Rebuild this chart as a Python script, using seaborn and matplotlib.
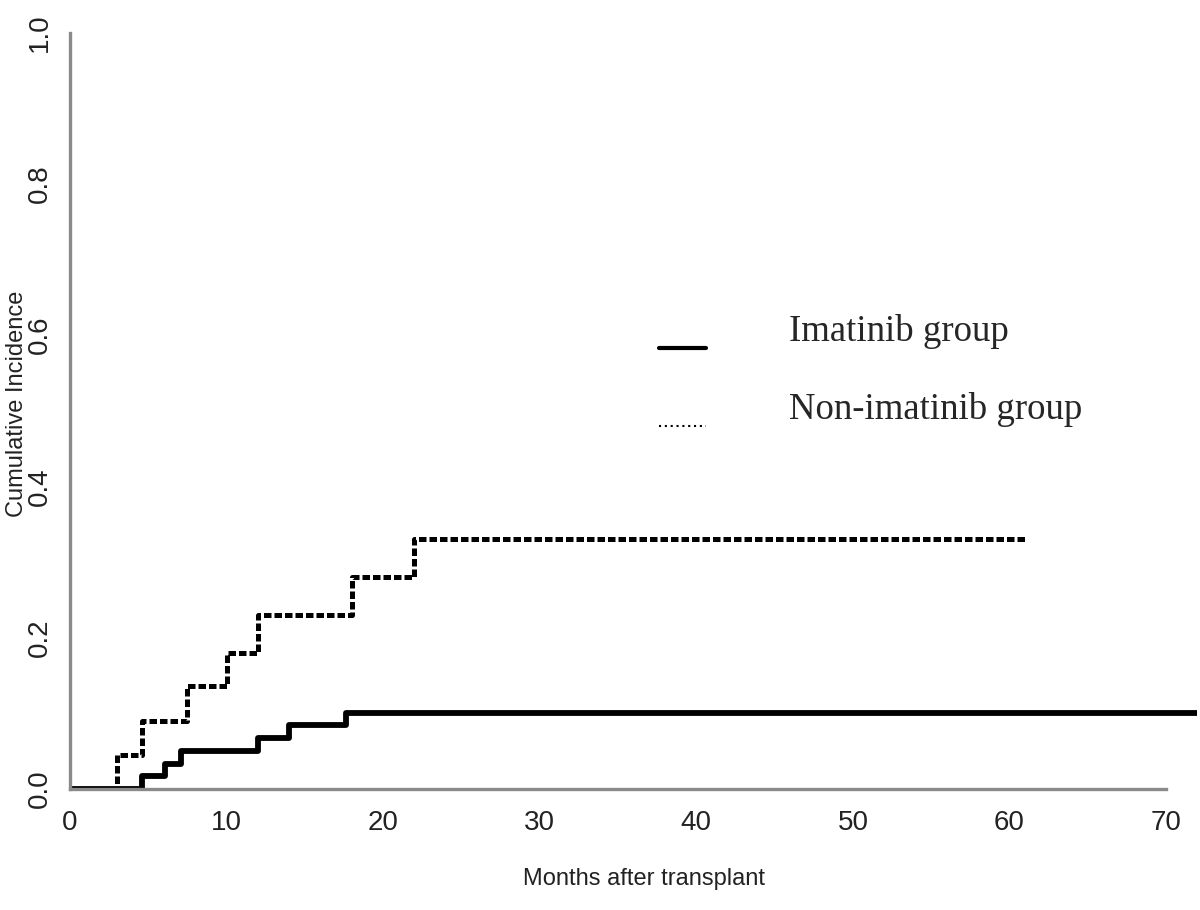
import pandas as pd
import numpy as np
import matplotlib
matplotlib.use("Agg")
import matplotlib.pyplot as plt
import seaborn as sns
from matplotlib.lines import Line2D
from matplotlib.legend_handler import HandlerLine2D

# cumulative incidence step curves
imat_months = [0, 4.6, 6.1, 7.1, 12.0, 14.0, 17.6, 72.0]
imat_ci = [0, 0.017, 0.033, 0.05, 0.067, 0.084, 0.1, 0.1]

non_months = [0, 3.0, 4.6, 7.5, 10.0, 12.0, 18.0, 22.0, 61.0]
non_ci = [0, 0.045, 0.09, 0.136, 0.18, 0.23, 0.28, 0.33, 0.33]

x_ticks = [0, 10, 20, 30, 40, 50, 60, 70]
y_ticks = [0.0, 0.2, 0.4, 0.6, 0.8, 1.0]
labels = ["Imatinib group", "Non-imatinib group"]

df_imat = pd.DataFrame({"month": imat_months, "ci": imat_ci})
df_non = pd.DataFrame({"month": non_months, "ci": non_ci})


class LowHandler(HandlerLine2D):
    # legend samples sit a little below the label text in the original
    def create_artists(self, legend, orig_handle, xdescent, ydescent, width, height, fontsize, trans):
        arts = super().create_artists(legend, orig_handle, xdescent, ydescent,
                                      width, height, fontsize, trans)
        for a in arts:
            a.set_ydata(np.asarray(a.get_ydata()) - 0.55 * fontsize)
        return arts


sns.set_style("white")
plt.rcParams["font.family"] = ["Liberation Sans", "DejaVu Sans"]

fig = plt.figure(figsize=(12, 9.1), dpi=100)
ax = fig.add_axes([0.0583, 0.133, 0.9396, 0.831])

sns.lineplot(data=df_non, x="month", y="ci", ax=ax, color="black", estimator=None,
             drawstyle="steps-post", linewidth=3.6, linestyle=(0, (1.5, 0.6)),
             dash_capstyle="butt")
sns.lineplot(data=df_imat, x="month", y="ci", ax=ax, color="black", estimator=None,
             drawstyle="steps-post", linewidth=4.2, solid_capstyle="butt")

ax.set_xlim(0, 72)
ax.set_ylim(0, 1.0)
ax.set_xticks(x_ticks)
ax.set_yticks(y_ticks)
ax.set_yticklabels([f"{v:.1f}" for v in y_ticks])

for s in ["top", "right"]:
    ax.spines[s].set_visible(False)
for s in ["left", "bottom"]:
    ax.spines[s].set_color("#8a8a8a")
    ax.spines[s].set_linewidth(2.4)
ax.spines["bottom"].set_bounds(0, 70)

ax.tick_params(axis="both", direction="out", length=8, width=2, color="#8a8a8a",
               labelcolor="#222222")
ax.tick_params(axis="x", labelsize=20, pad=7)
ax.tick_params(axis="y", labelsize=20, pad=4, labelrotation=90)
for t in ax.get_yticklabels():
    t.set_verticalalignment("center")

ax.set_xlabel("Months after transplant", fontsize=17, color="#222222")
ax.set_ylabel("Cumulative Incidence", fontsize=17, color="#222222")
ax.xaxis.set_label_coords(0.509, -0.1045)
ax.yaxis.set_label_coords(-0.0373, 0.509)

handles = [Line2D([], [], color="black", linewidth=3),
           Line2D([], [], color="black", linewidth=1.5, linestyle=(0, (1, 1.8)))]
ax.legend(handles, labels, loc="upper left", bbox_to_anchor=(0.493, 0.672), frameon=False,
          prop={"family": "Liberation Serif", "size": 26.5}, handlelength=1.28,
          handletextpad=2.25, labelspacing=1.17,
          handler_map={Line2D: LowHandler()})

fig.savefig("out.png", dpi=100)
